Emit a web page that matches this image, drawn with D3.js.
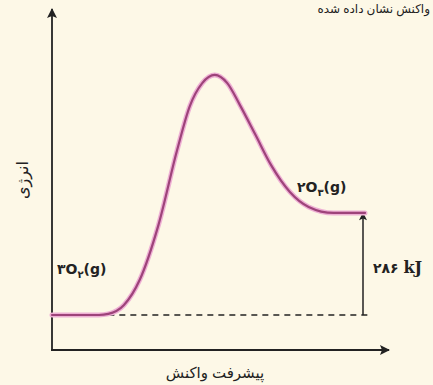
<!DOCTYPE html>
<html><head><meta charset="utf-8">
<script src="https://cdn.jsdelivr.net/npm/d3@7"></script>
<style>
html,body{margin:0;padding:0;background:#fdf8e7;}
svg{display:block;}
</style></head>
<body>
<script>
// Reaction progress (0-100) and energy (kJ, relative to reactant 3O2(g))
const progress = [0, 15, 18, 23, 28, 34, 40, 44, 48, 52, 56, 60, 65, 70, 76, 82, 90, 100];
const energy   = [0, 0, 3, 28, 98, 252, 463, 585, 650, 673, 650, 589, 505, 420, 345, 303, 286, 286];
const reactantLabel = ["۳O", "۲", "(g)"];
const productLabel = ["۲O", "۳", "(g)"];
const deltaH = 286;
const deltaNum = "۲۸۶";
const deltaUnit = "kJ";
const xTitle = "پیشرفت واکنش";
const yTitle = "انرژی";
const topText = "واکنش نشان داده شده";

const W = 433, H = 385;
const svg = d3.select("body").append("svg").attr("width", W).attr("height", H);

const x = d3.scaleLinear().domain([0, 100]).range([52, 365]);
const y = d3.scaleLinear().domain([0, 883]).range([315, 0]);

const defs = svg.append("defs");
function marker(id, w, h) {
  defs.append("marker").attr("id", id).attr("viewBox", "0 0 10 10")
    .attr("refX", 9).attr("refY", 5).attr("markerWidth", w).attr("markerHeight", h)
    .attr("markerUnits", "userSpaceOnUse").attr("orient", "auto")
    .append("path").attr("d", "M0,0 L10,5 L0,10 L2,5 Z").attr("fill", "#222");
}
marker("ax", 14, 10);
marker("sm", 10, 8);

// top text (cropped in the source image)
svg.append("text").attr("x", 430).attr("y", 13).attr("text-anchor", "end")
  .attr("font-family", "Noto Sans, DejaVu Sans").attr("font-size", 12)
  .attr("fill", "#222").text(topText);

// axes
svg.append("line").attr("x1", 52).attr("y1", 350).attr("x2", 52).attr("y2", 9)
  .attr("stroke", "#222").attr("stroke-width", 1.8).attr("marker-end", "url(#ax)");
svg.append("line").attr("x1", 51).attr("y1", 350).attr("x2", 389).attr("y2", 350)
  .attr("stroke", "#222").attr("stroke-width", 1.8).attr("marker-end", "url(#ax)");

// dashed baseline
svg.append("line").attr("x1", x(18)).attr("y1", y(0)).attr("x2", x(100) + 3).attr("y2", y(0))
  .attr("stroke", "#222").attr("stroke-width", 1.5).attr("stroke-dasharray", "6,5");

// deltaH arrow
svg.append("line").attr("x1", x(100) - 2).attr("y1", y(0)).attr("x2", x(100) - 2).attr("y2", y(deltaH))
  .attr("stroke", "#222").attr("stroke-width", 1.5).attr("marker-end", "url(#sm)");

// energy curve
const pts = progress.map((p, i) => [p, energy[i]]);
const line = d3.line().x(d => x(d[0])).y(d => y(d[1])).curve(d3.curveMonotoneX);
svg.append("path").attr("d", line(pts)).attr("fill", "none")
  .attr("stroke", "#eeb0d4").attr("stroke-width", 5).attr("stroke-linecap", "round");
svg.append("path").attr("d", line(pts)).attr("fill", "none")
  .attr("stroke", "#9e437a").attr("stroke-width", 2.2).attr("stroke-linecap", "round");

// species labels
function species(px, py, parts) {
  const t = svg.append("text").attr("x", px).attr("y", py)
    .attr("font-family", "DejaVu Sans").attr("font-weight", "bold").attr("font-size", 14)
    .attr("fill", "#222");
  t.append("tspan").text(parts[0]);
  t.append("tspan").attr("font-size", 10).attr("dy", 4).text(parts[1]);
  t.append("tspan").attr("dy", -4).text(parts[2]);
}
species(57, 274, reactantLabel);
species(297, 192, productLabel);

// deltaH label
const dl = svg.append("text").attr("x", 373).attr("y", 273)
  .attr("font-weight", "bold").attr("fill", "#222").attr("direction", "ltr");
dl.append("tspan").attr("font-family", "DejaVu Sans").attr("font-size", 14).text(deltaNum + " ");
dl.append("tspan").attr("font-family", "DejaVu Serif").attr("font-size", 16).text(deltaUnit);

// axis titles
svg.append("text").attr("x", 215).attr("y", 378).attr("text-anchor", "middle")
  .attr("font-family", "Noto Sans, DejaVu Sans").attr("font-size", 15).attr("fill", "#222")
  .text(xTitle);
svg.append("text").attr("transform", "translate(28,180) rotate(-90)").attr("text-anchor", "middle")
  .attr("font-family", "Noto Sans, DejaVu Sans").attr("font-size", 16).attr("fill", "#222")
  .text(yTitle);
</script>
</body></html>
